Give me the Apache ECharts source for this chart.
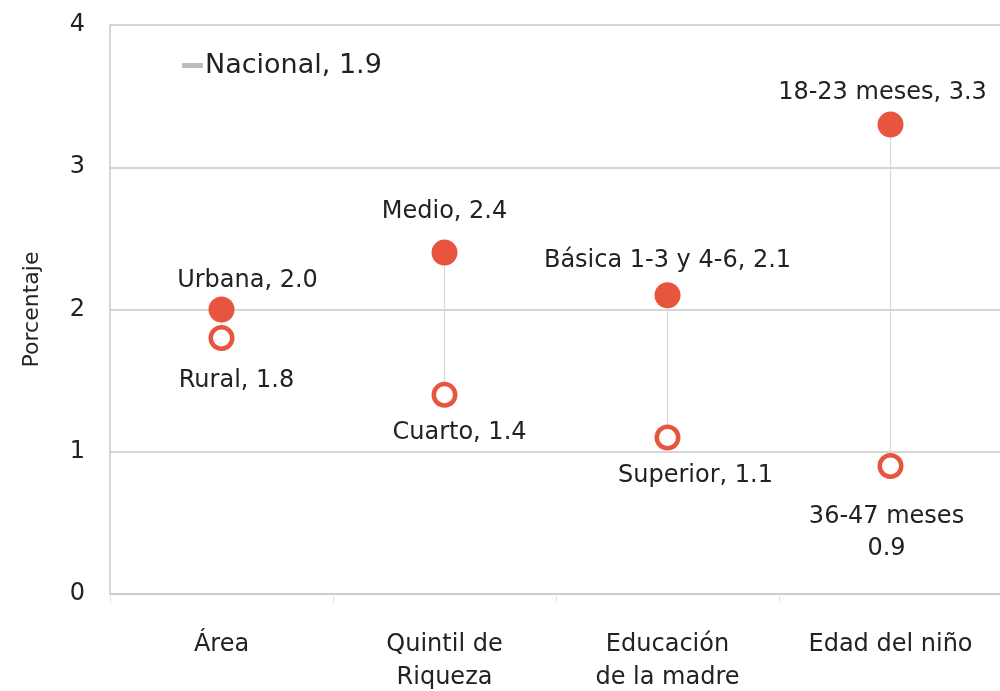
<!DOCTYPE html>
<html><head><meta charset="utf-8">
<script src="https://cdn.jsdelivr.net/npm/echarts@6/dist/echarts.min.js"></script>
<style>html,body{margin:0;padding:0;background:#fff}#c{width:1000px;height:691px}</style>
</head><body><div id="c"></div>
<script>
const categories = ['Área', 'Quintil de\nRiqueza', 'Educación\nde la madre', 'Edad del niño'];
const highNames = ['Urbana', 'Medio', 'Básica 1-3 y 4-6', '18-23 meses'];
const highValues = [2.0, 2.4, 2.1, 3.3];
const lowNames = ['Rural', 'Cuarto', 'Superior', '36-47 meses'];
const lowValues = [1.8, 1.4, 1.1, 0.9];
const nationalName = 'Nacional';
const nationalValue = 1.9;
const yTicks = [0, 1, 2, 3, 4];

// label layout (styles, not data): offset of label centre from marker centre
const highLabelOffsets = [[26, -29], [0, -41], [0, -35], [-8, -32]];
const lowLabelOffsets = [[15, 43], [15, 38], [28, 38], [-4, 67]];
const lowLabelSep = [', ', ', ', ', ', '\n'];

const RED = '#E8553E';
const FONT = '"DejaVu Sans", Verdana, sans-serif';
const TXT = '#222';

const chart = echarts.init(document.getElementById('c'));
chart.setOption({
  animation: false,
  textStyle: {fontFamily: FONT},
  grid: {left: 110, top: 25, width: 892, height: 569, containLabel: false, outerBoundsMode: 'none'},
  legend: {
    show: true, left: 177, top: 47, itemWidth: 21, itemHeight: 5, itemGap: 4,
    textStyle: {fontSize: 27, color: TXT, fontFamily: FONT, padding: [0, 0, 0, -3]},
    data: [{name: nationalName + ', ' + nationalValue.toFixed(1), icon: 'rect', itemStyle: {color: '#bdbdbd'}}]
  },
  xAxis: {
    type: 'category', data: categories, boundaryGap: true,
    axisLine: {show: true, lineStyle: {color: '#c8c8c8', width: 1.5}},
    axisTick: {show: true, length: 9, lineStyle: {color: '#e4e4e4'}},
    axisLabel: {fontSize: 24, color: TXT, margin: 34, lineHeight: 33, fontFamily: FONT}
  },
  yAxis: {
    type: 'value', min: yTicks[0], max: yTicks[yTicks.length - 1], interval: 1,
    name: 'Porcentaje', nameLocation: 'middle', nameGap: 67, nameRotate: 90,
    nameTextStyle: {fontSize: 22, color: TXT, fontFamily: FONT},
    axisLine: {show: true, lineStyle: {color: '#c8c8c8', width: 1.5}},
    axisTick: {show: false},
    axisLabel: {fontSize: 24, color: TXT, margin: 25, fontFamily: FONT},
    splitLine: {show: true, lineStyle: {color: '#c8c8c8', width: 1.5}}
  },
  series: [
    {
      name: nationalName + ', ' + nationalValue.toFixed(1), type: 'line', data: [],
      itemStyle: {color: '#bdbdbd'}, lineStyle: {color: '#bdbdbd'}
    },
    {
      type: 'custom', silent: true, z: 1,
      data: highValues.map((v, i) => [i, v, lowValues[i]]),
      renderItem: function (params, api) {
        const p1 = api.coord([api.value(0), api.value(1)]);
        const p2 = api.coord([api.value(0), api.value(2)]);
        return {type: 'line', shape: {x1: p1[0], y1: p1[1], x2: p2[0], y2: p2[1]},
          style: {stroke: '#d9d9d9', lineWidth: 1.3}};
      }
    },
    {
      type: 'scatter', z: 3, symbol: 'circle', symbolSize: 26,
      itemStyle: {color: RED, opacity: 1},
      data: highValues.map((v, i) => ({
        value: [i, v],
        label: {show: true, position: 'inside', offset: highLabelOffsets[i],
          formatter: highNames[i] + ', ' + v.toFixed(1), fontSize: 24, color: TXT, fontFamily: FONT}
      }))
    },
    {
      type: 'scatter', z: 3, symbol: 'circle', symbolSize: 21.5,
      itemStyle: {color: '#fff', borderColor: RED, borderWidth: 4.5, opacity: 1},
      data: lowValues.map((v, i) => ({
        value: [i, v],
        label: {show: true, position: 'inside', offset: lowLabelOffsets[i], lineHeight: 32, align: 'center',
          formatter: lowNames[i] + lowLabelSep[i] + v.toFixed(1),
          fontSize: 24, color: TXT, fontFamily: FONT}
      }))
    }
  ]
});
</script></body></html>
